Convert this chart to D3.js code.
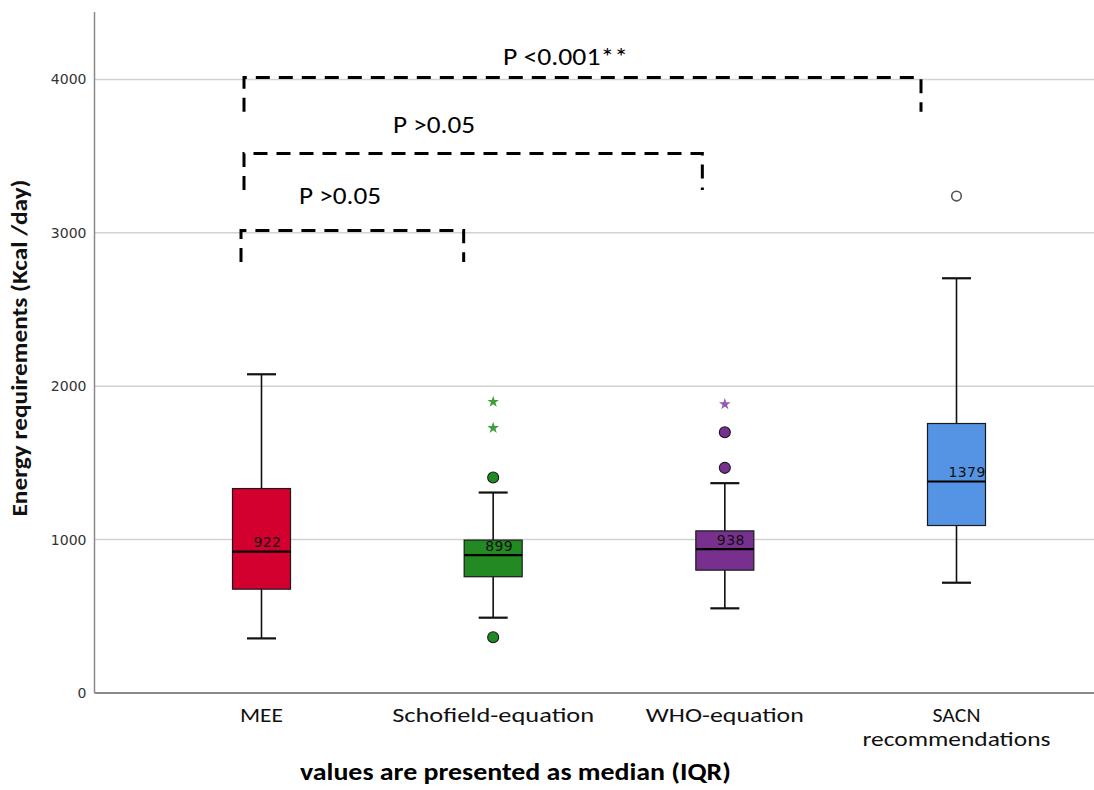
<!DOCTYPE html>
<html>
<head>
<meta charset="utf-8">
<script src="https://cdn.jsdelivr.net/npm/d3@7"></script>
<style>
  html, body { margin: 0; padding: 0; background: #fff; }
  svg { display: block; }
</style>
</head>
<body>
<svg id="chart" width="1094" height="790"></svg>
<script>
// Energy requirement estimates per method (kcal/day): box-plot summaries
const categories = ["MEE", "Schofield-equation", "WHO-equation", "SACN recommendations"];
const categoryLines = [["MEE"], ["Schofield-equation"], ["WHO-equation"], ["SACN", "recommendations"]];
const whiskerLow  = [356, 491, 552, 719];
const q1          = [677, 758, 801, 1092];
const median      = [922, 899, 938, 1379];
const q3          = [1333, 997, 1057, 1757];
const whiskerHigh = [2078, 1307, 1368, 2704];
// outliers (circles) and extreme values (stars)
const outliers = [[], [1405, 363], [1468, 1700], [3240]];
const extremes = [[], [1898, 1728], [1883], []];
const yTicks = [0, 1000, 2000, 3000, 4000];

// pairwise comparisons drawn as dashed brackets
const comparisons = [
  { from: "MEE", to: "SACN recommendations", level: 4013, drop: 3790, label: "P <0.001**" },
  { from: "MEE", to: "WHO-equation",         level: 3518, drop: 3280, label: "P >0.05" },
  { from: "MEE", to: "Schofield-equation",   level: 3016, drop: 2810, label: "P >0.05" }
];

const boxFill  = ["#D3002F", "#238A23", "#77308E", "#5594E4"];
const starFill = ["#D3002F", "#3E9E3E", "#9457B3", "#5594E4"];

const svg = d3.select("#chart");
const plot = { left: 94.5, right: 1094, top: 12, bottom: 693 };

const x = d3.scalePoint().domain(categories).range([261.5, 956.5]);
const y = d3.scaleLinear().domain([0, 4440]).range([plot.bottom, plot.top]);

const calibri = "Carlito, Calibri, Lato, 'Open Sans', sans-serif";
const spss = "'DejaVu Sans', Verdana, sans-serif";

// squeeze text into a given width to mimic a narrow typeface
function fit(sel, w) {
  sel.attr("textLength", w).attr("lengthAdjust", "spacingAndGlyphs");
}

// gridlines
svg.append("g").selectAll("line")
  .data(yTicks.filter(d => d > 0))
  .join("line")
  .attr("x1", plot.left).attr("x2", plot.right)
  .attr("y1", d => y(d)).attr("y2", d => y(d))
  .attr("stroke", "#d2d2d2").attr("stroke-width", 1.5);

// y axis
const yAxis = svg.append("g")
  .attr("transform", `translate(${plot.left},0)`)
  .call(d3.axisLeft(y).tickValues(yTicks).tickSize(0).tickPadding(8).tickFormat(d3.format("d")));
yAxis.select(".domain").remove();
yAxis.selectAll("text")
  .attr("font-family", spss).attr("font-size", 14).attr("fill", "#333");

svg.append("line")
  .attr("x1", plot.left).attr("x2", plot.left)
  .attr("y1", plot.top).attr("y2", plot.bottom)
  .attr("stroke", "#8a8a8a").attr("stroke-width", 1.5);
svg.append("line")
  .attr("x1", plot.left).attr("x2", plot.right)
  .attr("y1", plot.bottom).attr("y2", plot.bottom)
  .attr("stroke", "#8a8a8a").attr("stroke-width", 2);

// boxes
const boxW = 58, capW = 29;
const groups = svg.append("g").selectAll("g")
  .data(categories.map((c, i) => ({ c, i })))
  .join("g")
  .attr("transform", d => `translate(${x(d.c)},0)`);

groups.append("line") // upper whisker
  .attr("x1", 0).attr("x2", 0)
  .attr("y1", d => y(q3[d.i])).attr("y2", d => y(whiskerHigh[d.i]))
  .attr("stroke", "#111").attr("stroke-width", 1.6);
groups.append("line") // lower whisker
  .attr("x1", 0).attr("x2", 0)
  .attr("y1", d => y(q1[d.i])).attr("y2", d => y(whiskerLow[d.i]))
  .attr("stroke", "#111").attr("stroke-width", 1.6);
groups.append("line")
  .attr("x1", -capW / 2).attr("x2", capW / 2)
  .attr("y1", d => y(whiskerHigh[d.i])).attr("y2", d => y(whiskerHigh[d.i]))
  .attr("stroke", "#111").attr("stroke-width", 2.2);
groups.append("line")
  .attr("x1", -capW / 2).attr("x2", capW / 2)
  .attr("y1", d => y(whiskerLow[d.i])).attr("y2", d => y(whiskerLow[d.i]))
  .attr("stroke", "#111").attr("stroke-width", 2.2);
groups.append("rect")
  .attr("x", -boxW / 2).attr("width", boxW)
  .attr("y", d => y(q3[d.i])).attr("height", d => y(q1[d.i]) - y(q3[d.i]))
  .attr("fill", d => boxFill[d.i]).attr("stroke", "#1a1a1a").attr("stroke-width", 1.2);
groups.append("line")
  .attr("x1", -boxW / 2).attr("x2", boxW / 2)
  .attr("y1", d => y(median[d.i])).attr("y2", d => y(median[d.i]))
  .attr("stroke", "#000").attr("stroke-width", 2.2);
groups.append("text")
  .attr("x", -8).attr("y", d => y(median[d.i]) - 4.5)
  .attr("font-family", spss).attr("font-size", 14).attr("fill", "#111")
  .attr("letter-spacing", 0.4)
  .text(d => median[d.i]);

// outliers
groups.each(function (d) {
  const g = d3.select(this);
  const open = d.c === "SACN recommendations";
  g.selectAll("circle.out").data(outliers[d.i]).join("circle")
    .attr("class", "out")
    .attr("cx", 0).attr("cy", v => y(v)).attr("r", open ? 4.8 : 5.5)
    .attr("fill", open ? "#fff" : boxFill[d.i])
    .attr("stroke", open ? "#555" : "#1a1a1a")
    .attr("stroke-width", open ? 1.6 : 1.1);
  g.selectAll("path.ext").data(extremes[d.i]).join("path")
    .attr("class", "ext")
    .attr("d", d3.symbol().type(d3.symbolStar).size(42))
    .attr("transform", v => `translate(0,${y(v)})`)
    .attr("fill", starFill[d.i]);
});

// category labels
const labelWidths = { "MEE": 43, "Schofield-equation": 202, "WHO-equation": 158, "SACN": 48, "recommendations": 188 };
const xl = svg.append("g");
categoryLines.forEach((lines, i) => {
  lines.forEach((t, j) => {
    xl.append("text")
      .attr("x", x(categories[i])).attr("y", 722 + j * 24)
      .attr("text-anchor", "middle")
      .attr("font-family", calibri).attr("font-size", 19.5).attr("fill", "#111")
      .text(t)
      .call(fit, labelWidths[t]);
  });
});

// y axis title
svg.append("text")
  .attr("transform", "translate(27,348) rotate(-90)")
  .attr("text-anchor", "middle")
  .attr("font-family", calibri).attr("font-weight", "bold").attr("font-size", 22).attr("fill", "#111")
  .text("Energy requirements (Kcal /day)")
  .call(fit, 337);

// note under the axis
svg.append("text")
  .attr("x", 515.5).attr("y", 780)
  .attr("text-anchor", "middle")
  .attr("font-family", calibri).attr("font-weight", "bold").attr("font-size", 24).attr("fill", "#000")
  .text("values are presented as median (IQR)")
  .call(fit, 431);

// comparison brackets
const bracketStyle = [
  { left: -17.5, right: -35.5, labelX: 565.5, labelY: 65, labelW: 125 },
  { left: -17.5, right: -22.5, labelX: 434, labelY: 133, labelW: 82 },
  { left: -20.5, right: -29.5, labelX: 340, labelY: 204, labelW: 82 }
];
const br = svg.append("g");
comparisons.forEach((c, i) => {
  const s = bracketStyle[i];
  const x1 = x(c.from) + s.left, x2 = x(c.to) + s.right;
  br.append("path")
    .attr("d", d3.line()([[x1, y(c.drop)], [x1, y(c.level)], [x2, y(c.level)], [x2, y(c.drop)]]))
    .attr("fill", "none").attr("stroke", "#000").attr("stroke-width", 3)
    .attr("stroke-dasharray", "14,9");
  br.append("text")
    .attr("x", s.labelX).attr("y", s.labelY)
    .attr("text-anchor", "middle")
    .attr("font-family", calibri).attr("font-size", 24).attr("fill", "#000")
    .text(c.label)
    .call(fit, s.labelW);
});
</script>
</body>
</html>
